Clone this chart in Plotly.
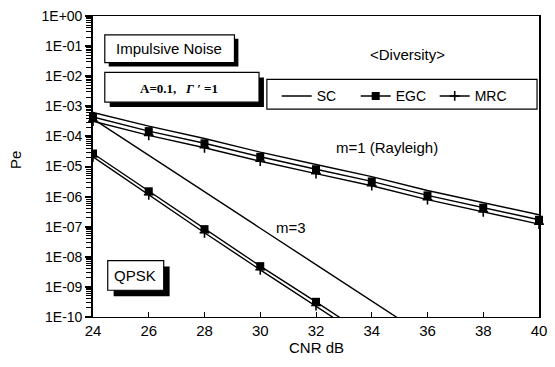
import plotly.graph_objects as go

# ---------------- data ----------------
cnr = [24, 26, 28, 30, 32, 34, 36, 38, 40]
m1_sc = [6.2e-4, 2.2e-4, 8.5e-5, 3.0e-5, 1.17e-5, 4.6e-6, 1.6e-6, 6.2e-7, 2.5e-7]
m1_egc = [4.4e-4, 1.5e-4, 5.9e-5, 2.1e-5, 8.1e-6, 3.2e-6, 1.1e-6, 4.3e-7, 1.7e-7]
m1_mrc = [3.2e-4, 1.08e-4, 4.2e-5, 1.5e-5, 5.8e-6, 2.3e-6, 7.9e-7, 3.1e-7, 1.22e-7]

cnr_m3 = [24, 26, 28, 30, 32, 34, 36]
m3_sc = [3.8e-4, 2.3e-5, 1.45e-6, 8.9e-8, 5.5e-9, 3.4e-10, 2.1e-11]
cnr_m3d = [24, 26, 28, 30, 32, 34]
m3_egc = [2.7e-5, 1.5e-6, 8.3e-8, 4.9e-9, 3.2e-10, 1.9e-11]
m3_mrc = [2.1e-5, 1.15e-6, 6.3e-8, 3.7e-9, 2.4e-10, 1.4e-11]

x_ticks = [24, 26, 28, 30, 32, 34, 36, 38, 40]
y_tickvals = [1, 1e-1, 1e-2, 1e-3, 1e-4, 1e-5, 1e-6, 1e-7, 1e-8, 1e-9, 1e-10]
y_ticktext = ["1E+00", "1E-01", "1E-02", "1E-03", "1E-04", "1E-05",
              "1E-06", "1E-07", "1E-08", "1E-09", "1E-10"]

# ---------------- layout geometry ----------------
W, H = 555, 367
L, R, T, B = 93, 8, 13, 50
PW, PH = W - L - R, H - T - B


def px(p):
    return (p - L) / PW


def py(p):
    return (H - B - p) / PH


FONT = "Liberation Sans, Arial, Helvetica, sans-serif"
SERIF = "Liberation Serif, Times New Roman, serif"
LW = 1.4

fig = go.Figure()

sq = dict(symbol="square", size=8, color="black")
cr = dict(symbol="cross-thin", size=7, color="black", line=dict(width=1.6, color="black"))

fig.add_trace(go.Scatter(x=cnr, y=m1_sc, mode="lines", name="SC",
                         line=dict(color="black", width=LW), legendgroup="sc"))
fig.add_trace(go.Scatter(x=cnr, y=m1_egc, mode="lines+markers", name="EGC",
                         line=dict(color="black", width=LW), marker=sq,
                         legendgroup="egc", cliponaxis=False))
fig.add_trace(go.Scatter(x=cnr, y=m1_mrc, mode="lines+markers", name="MRC",
                         line=dict(color="black", width=LW), marker=cr,
                         legendgroup="mrc", cliponaxis=False))
fig.add_trace(go.Scatter(x=cnr_m3, y=m3_sc, mode="lines", name="SC",
                         line=dict(color="black", width=LW), legendgroup="sc",
                         showlegend=False))
fig.add_trace(go.Scatter(x=cnr_m3d, y=m3_egc, mode="lines+markers", name="EGC",
                         line=dict(color="black", width=LW), marker=sq,
                         legendgroup="egc", showlegend=False, cliponaxis=True))
fig.add_trace(go.Scatter(x=cnr_m3d, y=m3_mrc, mode="lines+markers", name="MRC",
                         line=dict(color="black", width=LW), marker=cr,
                         legendgroup="mrc", showlegend=False, cliponaxis=True))

shapes = []


def box(x0, y0, x1, y1, shadow=0):
    if shadow:
        shapes.append(dict(type="rect", xref="paper", yref="paper", layer="above",
                           x0=px(x0 + shadow), x1=px(x1 + shadow),
                           y0=py(y1 + shadow), y1=py(y0 + shadow),
                           fillcolor="black", line=dict(width=0)))
    shapes.append(dict(type="rect", xref="paper", yref="paper", layer="above",
                       x0=px(x0), x1=px(x1), y0=py(y1), y1=py(y0),
                       fillcolor="white", line=dict(color="black", width=1.2)))


box(105, 32, 237, 60, shadow=4)
box(105, 70, 262, 100, shadow=5)
box(270, 77, 545, 107)
box(108, 260, 165, 290, shadow=6)

annotations = []


def text(s, x, y, size, family=FONT, angle=0):
    annotations.append(dict(text=s, x=px(x), y=py(y), xref="paper", yref="paper",
                            showarrow=False, xanchor="center", yanchor="middle",
                            textangle=angle, font=dict(family=family, size=size, color="black")))


text("Impulsive Noise", 170, 46, 15)
text("<b>A=0.1,   <i>Γ</i> ′ =1</b>", 181, 86, 13, family=SERIF)
text("&lt;Diversity&gt;", 413, 52, 15)
text("m=1 (Rayleigh)", 392, 146, 15)
text("m=3", 295, 227, 15)
text("QPSK", 136, 275, 15)
text("CNR dB", 320, 348, 15)
text("Pe", 14, 158, 15, angle=-90)

fig.update_layout(
    width=W, height=H,
    margin=dict(l=L, r=R, t=T, b=B, pad=0),
    paper_bgcolor="white", plot_bgcolor="white",
    font=dict(family=FONT, size=14, color="black"),
    shapes=shapes, annotations=annotations,
    legend=dict(orientation="h", x=px(280), y=py(78), xanchor="left", yanchor="top",
                bgcolor="rgba(0,0,0,0)", borderwidth=0, entrywidth=34,
                font=dict(family=FONT, size=14, color="black"), itemwidth=30),
    xaxis=dict(range=[24, 40], tickvals=x_ticks, ticktext=[str(v) for v in x_ticks],
               showgrid=False, zeroline=False, showline=True, linecolor="black",
               linewidth=1.2, mirror=True, ticks="inside", ticklen=5, tickwidth=1.2,
               tickcolor="black", tickfont=dict(size=15)),
    yaxis=dict(type="log", range=[-10, 0], tickvals=y_tickvals, ticktext=y_ticktext,
               showgrid=False, zeroline=False, showline=True, linecolor="black",
               linewidth=1.6, mirror=True, ticks="outside", ticklen=6, tickwidth=1.5,
               tickcolor="black", tickfont=dict(size=14),
               minor=dict(ticks="outside", ticklen=5, tickwidth=1, tickcolor="black",
                          dtick="D1", showgrid=False)),
)

fig.write_html("out.html")
